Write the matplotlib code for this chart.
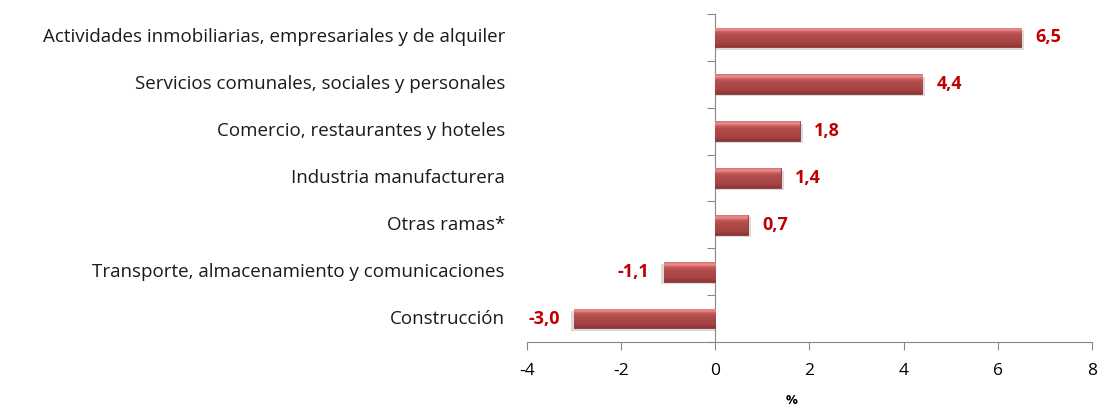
import numpy as np
import matplotlib
matplotlib.use("Agg")
from matplotlib import pyplot as plt
from matplotlib import transforms
from matplotlib.colors import LinearSegmentedColormap

# datos (de arriba hacia abajo)
ramas = ["Actividades inmobiliarias, empresariales y de alquiler",
         "Servicios comunales, sociales y personales",
         "Comercio, restaurantes y hoteles",
         "Industria manufacturera",
         "Otras ramas*",
         "Transporte, almacenamiento y comunicaciones",
         "Construcción"]
valores = [6.5, 4.4, 1.8, 1.4, 0.7, -1.1, -3.0]
etiquetas = ["6,5", "4,4", "1,8", "1,4", "0,7", "-1,1", "-3,0"]
xticks = [-4, -2, 0, 2, 4, 6, 8]

plt.rcParams['font.family'] = ['Open Sans', 'DejaVu Sans']

fig = plt.figure(figsize=(10.99, 4.07), dpi=100)
ax = fig.add_axes([0.4795, 0.1597, 0.5141, 0.8059])

n = len(ramas)
ypos = np.arange(n)[::-1]
alto = 0.42

# barras con degradado (efecto bisel)
cmap = LinearSegmentedColormap.from_list(
    "bisel", [(0.0, "#8E3434"), (0.2, "#A64343"), (0.6, "#B34C4C"),
              (0.76, "#C65C5C"), (0.87, "#EE8E8E"), (1.0, "#D67474")])
grad_img = np.linspace(0, 1, 64).reshape(-1, 1)

bars = ax.barh(ypos, valores, height=alto, color="#A84444", edgecolor="#7A2A2A",
               linewidth=0.5, zorder=3)
for b in bars:
    x0, y0 = b.get_x(), b.get_y()
    w, h = b.get_width(), b.get_height()
    im = ax.imshow(grad_img, cmap=cmap, aspect='auto', origin='lower',
                   extent=[x0, x0 + w, y0, y0 + h], zorder=3.5)
    im.set_clip_path(b)
    # sombra
    ax.barh(y0 + h / 2 - 0.05, w + 0.06 * np.sign(w), left=x0, height=h,
            color="#888888", alpha=0.3, zorder=2, linewidth=0)

# valores
for y, v, t in zip(ypos, valores, etiquetas):
    if v >= 0:
        ax.text(v + 0.3, y, t, ha='left', va='center', color="#C00000",
                fontsize=13, fontweight='bold', zorder=5)
    else:
        ax.text(v - 0.3, y, t, ha='right', va='center', color="#C00000",
                fontsize=13, fontweight='bold', zorder=5)

# etiquetas de categorías fuera del área
trans = transforms.blended_transform_factory(ax.transAxes, ax.transData)
for y, r in zip(ypos, ramas):
    ax.text(-0.039, y, r, transform=trans, ha='right', va='center',
            fontsize=13.5, color="#1a1a1a")

ax.set_xlim(-4, 8)
ax.set_ylim(-0.5, n - 0.5)
ax.set_xticks(xticks)
ax.set_xticklabels([str(x) for x in xticks], fontsize=12.5)
ax.tick_params(axis='x', direction='out', length=6, color="#888888", pad=9)

# eje vertical en cero con marcas entre categorías
ax.spines['left'].set_position(('data', 0))
ax.spines['left'].set_color("#888888")
ax.spines['bottom'].set_color("#888888")
ax.spines['top'].set_visible(False)
ax.spines['right'].set_visible(False)
ax.set_yticks(np.arange(-0.5, n, 1.0))
ax.set_yticklabels([])
ax.tick_params(axis='y', direction='out', length=6, color="#888888")

fig.text(792 / 1099, 7 / 407, "%", ha='center', va='center',
         fontsize=9.5, fontweight='bold')

fig.savefig("out.png", dpi=100)
